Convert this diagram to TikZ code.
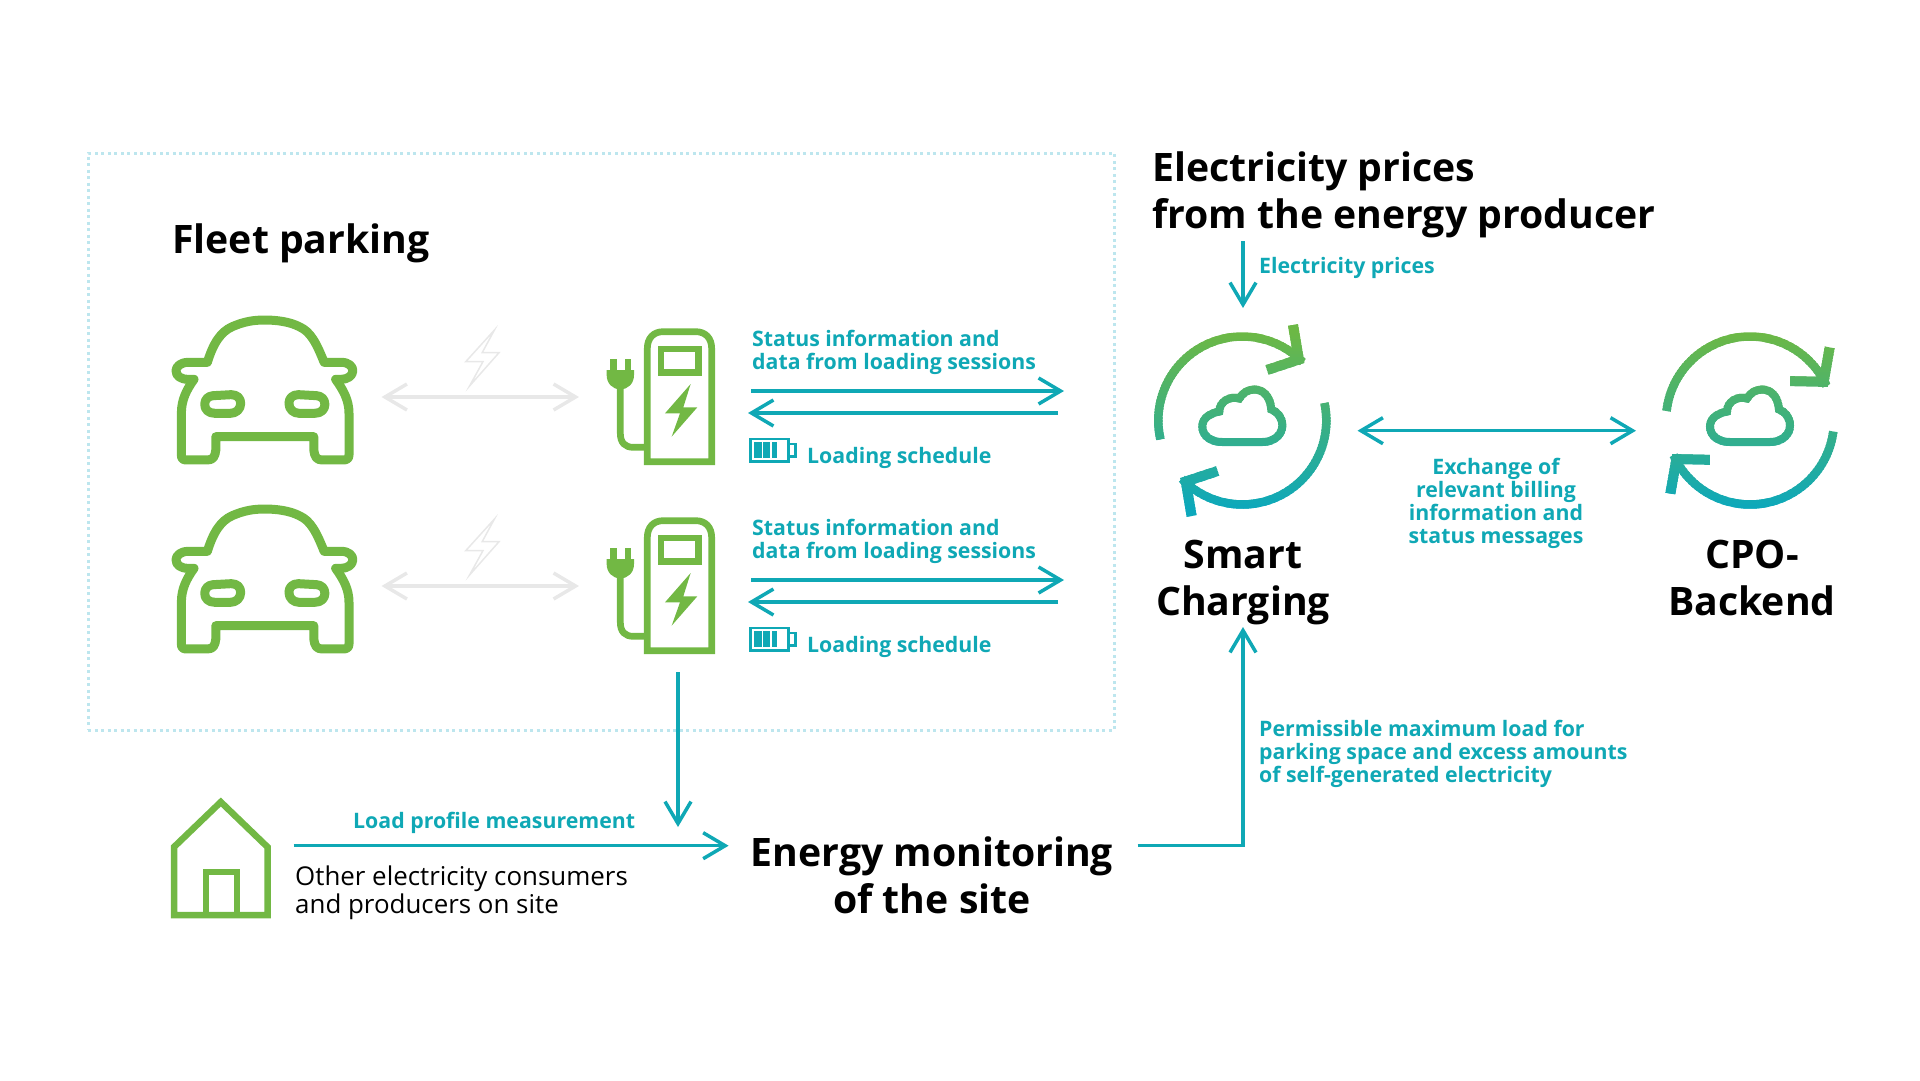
\documentclass[tikz,border=0pt]{standalone}
\usepackage{fontspec}
\usepackage{tikz}
\setmainfont{Open Sans}
\usetikzlibrary{arrows.meta}
\definecolor{leafgreen}{HTML}{72B844}
\definecolor{flowteal}{HTML}{0FA8B5}
\definecolor{icongreen}{HTML}{6CB845}
\definecolor{iconteal}{HTML}{0CA8BC}
\definecolor{palegrey}{HTML}{E8E8E8}
\definecolor{paleblue}{HTML}{BDE6EE}

\begin{document}
\begin{tikzpicture}[
		x=1pt,y=-1pt,
		>={Straight Barb[length=22pt,width=26pt]},
		flow/.style={draw=flowteal,line width=3.5pt},
		idle/.style={draw=palegrey,line width=3.5pt},
		head/.style={inner sep=0pt,anchor=base,align=center,font=\fontsize{39.2}{47}\selectfont\bfseries},
		headleft/.style={head,anchor=base west,align=left},
		flowtext/.style={inner sep=0pt,anchor=base west,align=left,text=flowteal,font=\fontsize{21.3}{22.8}\selectfont\bfseries},
		plain/.style={inner sep=0pt,anchor=base west,align=left,font=\fontsize{25.9}{28}\selectfont},
		area/.style={draw=paleblue,line width=3pt,dash pattern=on 3pt off 3.5pt,inner sep=0pt},
		car/.pic={
			\begin{scope}[x=0.3827pt,y=-0.3333pt,draw=leafgreen,line width=9pt,line join=round]
				\draw (150,187) .. controls (165,130) and (185,95) .. (215,80) .. controls (245,65) and (270,60) .. (300,60) .. controls (330,60) and (365,65) .. (390,80) .. controls (420,95) and (435,130) .. (455,187) -- (500,187) .. controls (520,187) and (530,200) .. (530,212) .. controls (530,228) and (515,238) .. (500,238) -- (485,238) .. controls (505,270) and (520,300) .. (520,340) -- (520,465) .. controls (520,475) and (515,480) .. (505,480) -- (450,480) .. controls (435,480) and (430,470) .. (428,450) -- (428,410) -- (172,410) -- (172,450) .. controls (170,470) and (165,480) .. (150,480) -- (95,480) .. controls (85,480) and (82,475) .. (82,465) -- (82,340) .. controls (82,300) and (95,270) .. (115,238) -- (100,238) .. controls (80,238) and (68,228) .. (68,212) .. controls (68,200) and (80,187) .. (100,187) -- cycle;
				\draw (165,287) -- (212,284) .. controls (228,284) and (237,295) .. (237,310) .. controls (237,328) and (225,340) .. (210,340) -- (170,340) .. controls (152,340) and (143,328) .. (143,313) .. controls (143,298) and (152,288) .. (165,287) -- cycle;
				\draw (435,287) -- (388,284) .. controls (372,284) and (363,295) .. (363,310) .. controls (363,328) and (375,340) .. (390,340) -- (430,340) .. controls (448,340) and (457,328) .. (457,313) .. controls (457,298) and (448,288) .. (435,287) -- cycle;
				\draw[draw=palegrey,line width=1.5pt,line join=miter] (900,90) -- (825,185) -- (870,185) -- (835,258) -- (912,158) -- (868,158) -- cycle;
			\end{scope}
			\coordinate (-east) at (231.5,97);
		},
		charger/.pic={
			\begin{scope}[x=0.3333pt,y=-0.3333pt,draw=leafgreen,fill=leafgreen,line width=6.7pt]
				\draw (172,455) -- (172,115) .. controls (172,85) and (190,65) .. (220,65) -- (317,65) .. controls (347,65) and (365,85) .. (365,115) -- (365,455) -- cycle;
				\draw (213,117) rectangle (325,187);
				\fill (302,222) -- (225,310) -- (270,310) -- (245,380) -- (322,292) -- (280,292) -- cycle;
				\fill (60,148) rectangle (80,185);
				\fill (105,148) rectangle (122,185);
				\fill (50,180) -- (132,180) -- (132,195) .. controls (132,220) and (115,238) .. (91,238) .. controls (67,238) and (50,220) .. (50,195) -- cycle;
				\draw (91,235) -- (91,370) .. controls (91,398) and (105,412) .. (130,412) -- (172,412);
				\begin{scope}[draw=flowteal,fill=flowteal,line width=2.7pt]
					\draw (482,387) rectangle (596,454);
					\draw (596,402) -- (617,402) -- (617,440) -- (596,440);
					\fill (492,397) rectangle (515,445);
					\fill (520,397) rectangle (540,445);
					\fill (545,397) rectangle (562,445);
				\end{scope}
			\end{scope}
			\coordinate (-west) at (-11,87);
			\coordinate (-upstart) at (161,81);
			\coordinate (-upend) at (474,81);
			\coordinate (-downstart) at (468,103);
			\coordinate (-downend) at (158,103);
			\coordinate (-south) at (88,173);
		},
		house/.pic={
			\draw[draw=leafgreen,line width=6.5pt] (174,915) -- (174,847) -- (220.8,802) -- (267.5,847) -- (267.5,915) -- cycle;
			\draw[draw=leafgreen,line width=6.5pt] (206,915) -- (206,872) -- (237,872) -- (237,915);
		},
		pics/reload/.style={code={
			\foreach \y in {-102,-99,...,102}{
				\pgfmathsetmacro\p{min(100,max(0,(\y+88)/1.76))}
				\begin{scope}
					\clip (-100,\y) rectangle (100,\y+4);
					\begin{scope}[rotate=#1,draw=iconteal!\p!icongreen,line width=8.5pt]
						\draw (193:84pt) arc (193:44:84pt);
						\draw (12:84pt) arc (12:-136:84pt);
						\draw[line width=10pt] (50.7,-95.5) -- (56.5,-61) -- (24.7,-50.5);
						\draw[line width=10pt] (-50.7,95.5) -- (-56.5,61) -- (-24.7,50.5);
					\end{scope}
					\draw[draw=iconteal!\p!icongreen,line width=8pt] (-20,21.5) -- (20,21.5) .. controls (32,21.5) and (40,14) .. (40,5) .. controls (40,-3) and (35,-9) .. (29,-11) .. controls (28,-24) and (21,-31) .. (12,-31) .. controls (5,-31) and (0,-27) .. (-3,-22) .. controls (-12,-25) and (-23,-19) .. (-23,-9) .. controls (-33,-7) and (-40,-2) .. (-40,6) .. controls (-40,15) and (-32,21.5) .. (-20,21.5) -- cycle;
				\end{scope}
			}
		}}
		]
		\useasboundingbox (0,0) rectangle (1920,1080);
		\node[area,minimum width=1026pt,minimum height=577pt] (parkarea) at (601,441.5) {};
		\node[headleft] (fleet) at (172,253) {Fleet parking};
		\pic (car1) at (150,300) {car};
		\pic (car2) at (150,489) {car};
		\pic (pump1) at (590,310) {charger};
		\pic (pump2) at (590,499) {charger};
		\pic (home) at (0,0) {house};
		\coordinate (pump1in) at (579,397);
		\coordinate (pump2in) at (579,586);
		\draw[idle,<->] (car1-east) -- (pump1in);
		\draw[idle,<->] (car2-east) -- (pump2in);
		\draw[flow,->] (pump1-upstart) -- (pump1-upend);
		\draw[flow,->] (pump1-downstart) -- (pump1-downend);
		\draw[flow,->] (pump2-upstart) -- (pump2-upend);
		\draw[flow,->] (pump2-downstart) -- (pump2-downend);
		\node[flowtext] (status1) at (752,369.5) {Status information and\\data from loading sessions};
		\node[flowtext] (status2) at (752,558.5) {Status information and\\data from loading sessions};
		\node[flowtext] (sched1) at (807,463) {Loading schedule};
		\node[flowtext] (sched2) at (807,652) {Loading schedule};
		\node[headleft] (prices) at (1152,228) {Electricity prices\\from the energy producer};
		\node[flowtext] (priceflow) at (1259,273.5) {Electricity prices};
		\pic (smarticon) at (1242.3,420.5) {reload=0};
		\pic (cpoicon) at (1750,420.5) {reload=-19.5};
		\node[head] (smart) at (1243,615) {Smart\\Charging};
		\node[head] (cpo) at (1752,615) {CPO-\\Backend};
		\coordinate (pricetop) at (1243,241);
		\coordinate (pricetip) at (1243,308);
		\coordinate (smartside) at (1357.5,430.7);
		\coordinate (cposide) at (1636,430.7);
		\coordinate (smartfoot) at (1243,627);
		\draw[flow,->] (pricetop) -- (pricetip);
		\draw[flow,<->] (smartside) -- (cposide);
		\node[flowtext,anchor=base,align=center] (billing) at (1496,543) {Exchange of\\relevant billing\\information and\\status messages};
		\node[head] (site) at (932,913.5) {Energy monitoring\\of the site};
		\node[flowtext] (loadflow) at (353,828) {Load profile measurement};
		\node[plain] (others) at (295,913) {Other electricity consumers\\and producers on site};
		\node[flowtext] (maxload) at (1259,782) {Permissible maximum load for\\parking space and excess amounts\\of self-generated electricity};
		\coordinate (homeout) at (293.5,845.7);
		\coordinate (sitein) at (728.6,845.7);
		\coordinate (siteout) at (1137.5,845.7);
		\coordinate (sitetop) at (678,827);
		\draw[flow,->] (pump2-south) -- (sitetop);
		\draw[flow,->] (homeout) -- (sitein);
		\draw[flow,->] (siteout) -| (smartfoot);
\end{tikzpicture}
\end{document}
